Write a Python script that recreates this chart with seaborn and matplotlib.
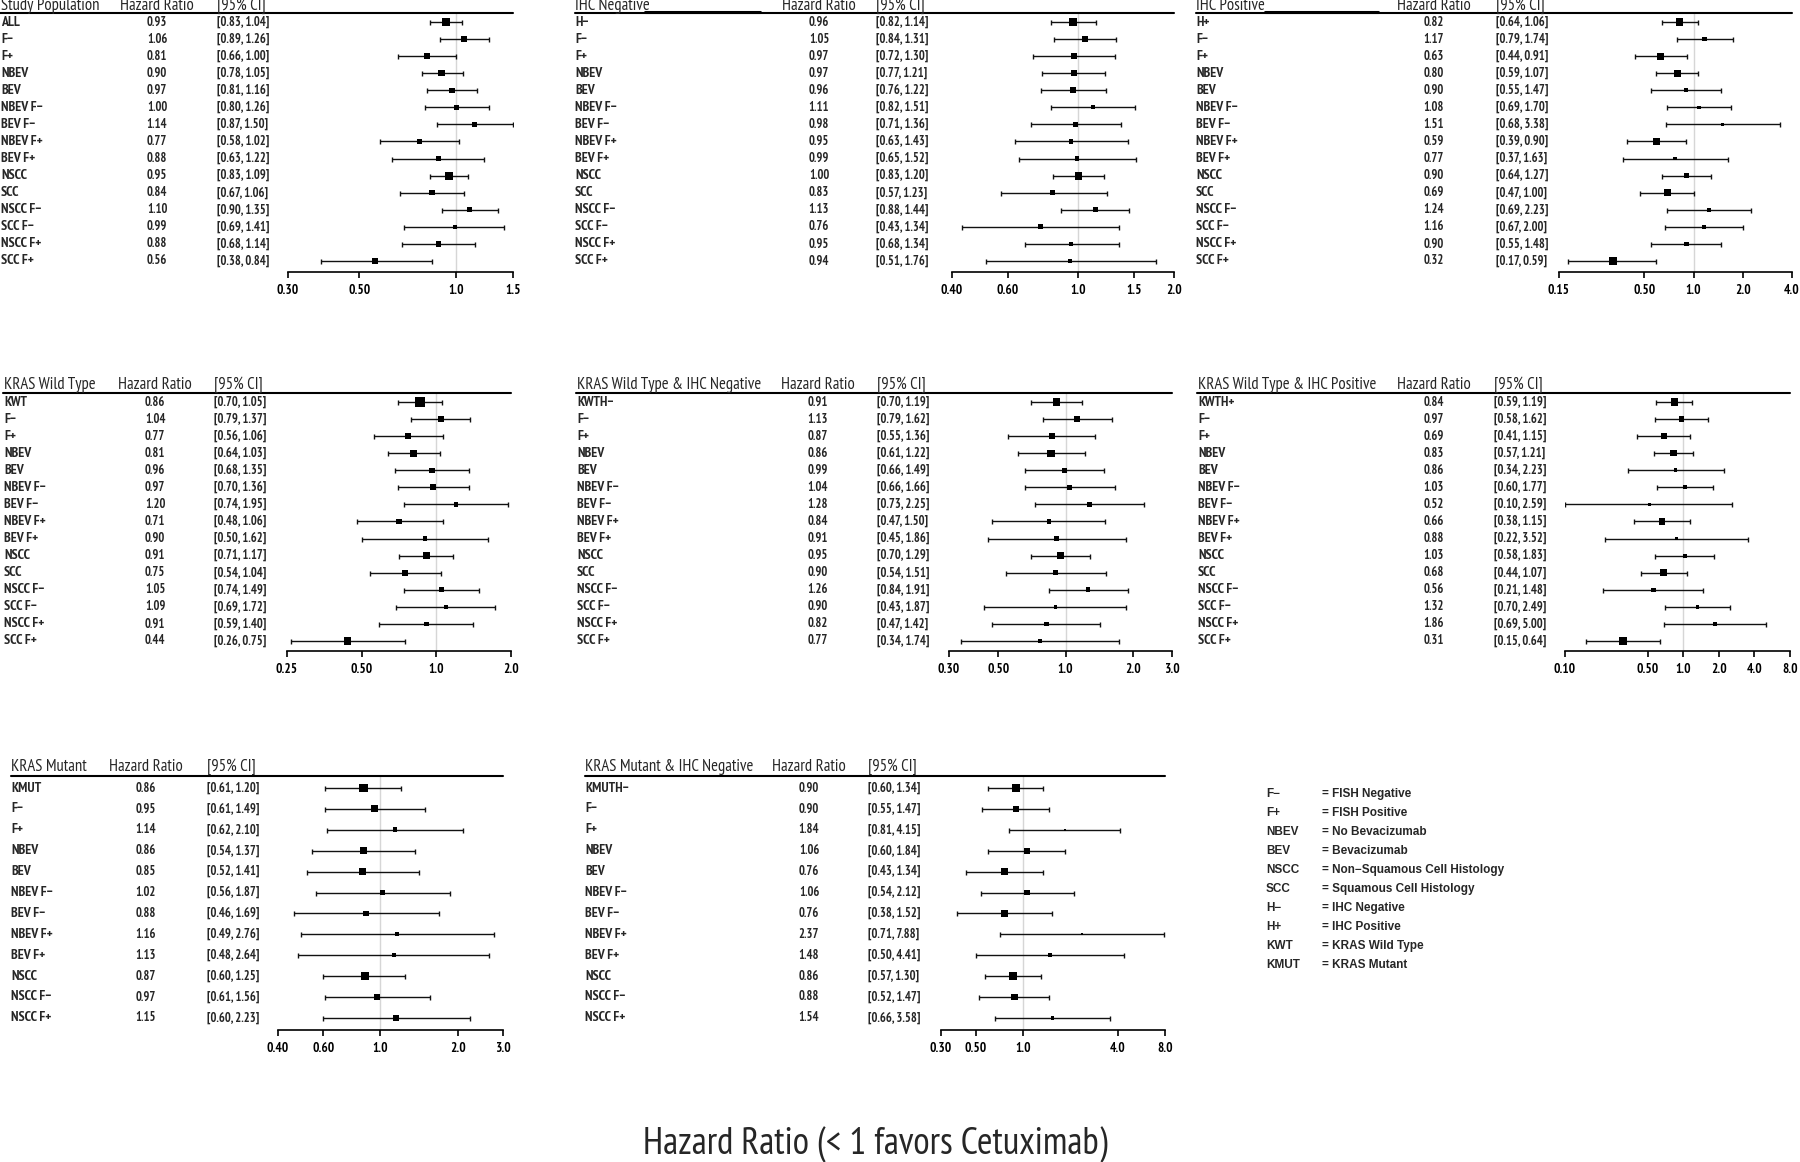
import numpy as np
import matplotlib
matplotlib.use('Agg')
import matplotlib.pyplot as plt
from matplotlib.lines import Line2D
from matplotlib.ticker import NullLocator
import seaborn as sns

sns.set_style('white')
plt.rcParams['font.family'] = ['PT Sans Narrow', 'DejaVu Sans']

W, H = 1800, 1162

base_rows = ['F−', 'F+', 'NBEV', 'BEV', 'NBEV F−', 'BEV F−', 'NBEV F+', 'BEV F+',
             'NSCC', 'SCC', 'NSCC F−', 'SCC F−', 'NSCC F+', 'SCC F+']
mut_rows = ['F−', 'F+', 'NBEV', 'BEV', 'NBEV F−', 'BEV F−', 'NBEV F+', 'BEV F+',
            'NSCC', 'NSCC F−', 'NSCC F+']

# Study Population
sp_labels = ['ALL'] + base_rows
sp_hr = [0.93, 1.06, 0.81, 0.90, 0.97, 1.00, 1.14, 0.77, 0.88, 0.95, 0.84, 1.10, 0.99, 0.88, 0.56]
sp_lo = [0.83, 0.89, 0.66, 0.78, 0.81, 0.80, 0.87, 0.58, 0.63, 0.83, 0.67, 0.90, 0.69, 0.68, 0.38]
sp_hi = [1.04, 1.26, 1.00, 1.05, 1.16, 1.26, 1.50, 1.02, 1.22, 1.09, 1.06, 1.35, 1.41, 1.14, 0.84]
sp_box = [7, 5, 4.5, 5.5, 4.5, 4.5, 4, 4.5, 4.5, 6.5, 4.5, 4, 3.5, 4.5, 5]

# IHC Negative
hn_labels = ['H−'] + base_rows
hn_hr = [0.96, 1.05, 0.97, 0.97, 0.96, 1.11, 0.98, 0.95, 0.99, 1.00, 0.83, 1.13, 0.76, 0.95, 0.94]
hn_lo = [0.82, 0.84, 0.72, 0.77, 0.76, 0.82, 0.71, 0.63, 0.65, 0.83, 0.57, 0.88, 0.43, 0.68, 0.51]
hn_hi = [1.14, 1.31, 1.30, 1.21, 1.22, 1.51, 1.36, 1.43, 1.52, 1.20, 1.23, 1.44, 1.34, 1.34, 1.76]
hn_box = [6.5, 5, 5, 5, 5, 3.5, 4, 3.5, 3.5, 6.5, 4, 4.5, 4, 3.5, 3]

# IHC Positive
hp_labels = ['H+'] + base_rows
hp_hr = [0.82, 1.17, 0.63, 0.80, 0.90, 1.08, 1.51, 0.59, 0.77, 0.90, 0.69, 1.24, 1.16, 0.90, 0.32]
hp_lo = [0.64, 0.79, 0.44, 0.59, 0.55, 0.69, 0.68, 0.39, 0.37, 0.64, 0.47, 0.69, 0.67, 0.55, 0.17]
hp_hi = [1.06, 1.74, 0.91, 1.07, 1.47, 1.70, 3.38, 0.90, 1.63, 1.27, 1.00, 2.23, 2.00, 1.48, 0.59]
hp_box = [6, 4, 6, 6, 3.5, 3, 2.5, 6, 3, 4, 6, 3, 3.5, 4, 7]

# KRAS Wild Type
kw_labels = ['KWT'] + base_rows
kw_hr = [0.86, 1.04, 0.77, 0.81, 0.96, 0.97, 1.20, 0.71, 0.90, 0.91, 0.75, 1.05, 1.09, 0.91, 0.44]
kw_lo = [0.70, 0.79, 0.56, 0.64, 0.68, 0.70, 0.74, 0.48, 0.50, 0.71, 0.54, 0.74, 0.69, 0.59, 0.26]
kw_hi = [1.05, 1.37, 1.06, 1.03, 1.35, 1.36, 1.95, 1.06, 1.62, 1.17, 1.04, 1.49, 1.72, 1.40, 0.75]
kw_box = [8, 5, 5, 6, 4.5, 5, 4, 5, 4, 6, 5, 4.5, 3.5, 4, 6]

# KRAS Wild Type & IHC Negative
kwn_labels = ['KWTH−'] + base_rows
kwn_hr = [0.91, 1.13, 0.87, 0.86, 0.99, 1.04, 1.28, 0.84, 0.91, 0.95, 0.90, 1.26, 0.90, 0.82, 0.77]
kwn_lo = [0.70, 0.79, 0.55, 0.61, 0.66, 0.66, 0.73, 0.47, 0.45, 0.70, 0.54, 0.84, 0.43, 0.47, 0.34]
kwn_hi = [1.19, 1.62, 1.36, 1.22, 1.49, 1.66, 2.25, 1.50, 1.86, 1.29, 1.51, 1.91, 1.87, 1.42, 1.74]
kwn_box = [6.5, 5, 5.5, 6, 4.5, 4.5, 4, 3.5, 3.5, 5.5, 4.5, 4, 3, 4, 3.5]

# KRAS Wild Type & IHC Positive
kwp_labels = ['KWTH+'] + base_rows
kwp_hr = [0.84, 0.97, 0.69, 0.83, 0.86, 1.03, 0.52, 0.66, 0.88, 1.03, 0.68, 0.56, 1.32, 1.86, 0.31]
kwp_lo = [0.59, 0.58, 0.41, 0.57, 0.34, 0.60, 0.10, 0.38, 0.22, 0.58, 0.44, 0.21, 0.70, 0.69, 0.15]
kwp_hi = [1.19, 1.62, 1.15, 1.21, 2.23, 1.77, 2.59, 1.15, 3.52, 1.83, 1.07, 1.48, 2.49, 5.00, 0.64]
kwp_box = [6, 4.5, 5, 5.5, 3, 3.5, 3, 5.5, 2.5, 3.5, 6, 3.5, 3, 3, 7]

# KRAS Mutant
km_labels = ['KMUT'] + mut_rows
km_hr = [0.86, 0.95, 1.14, 0.86, 0.85, 1.02, 0.88, 1.16, 1.13, 0.87, 0.97, 1.15]
km_lo = [0.61, 0.61, 0.62, 0.54, 0.52, 0.56, 0.46, 0.49, 0.48, 0.60, 0.61, 0.60]
km_hi = [1.20, 1.49, 2.10, 1.37, 1.41, 1.87, 1.69, 2.76, 2.64, 1.25, 1.56, 2.23]
km_box = [7, 6, 4, 6, 6, 4.5, 4.5, 3.5, 3.5, 7, 5.5, 5]

# KRAS Mutant & IHC Negative
kmn_labels = ['KMUTH−'] + mut_rows
kmn_hr = [0.90, 0.90, 1.84, 1.06, 0.76, 1.06, 0.76, 2.37, 1.48, 0.86, 0.88, 1.54]
kmn_lo = [0.60, 0.55, 0.81, 0.60, 0.43, 0.54, 0.38, 0.71, 0.50, 0.57, 0.52, 0.66]
kmn_hi = [1.34, 1.47, 4.15, 1.84, 1.34, 2.12, 1.52, 7.88, 4.41, 1.30, 1.47, 3.58]
kmn_box = [6.5, 5.5, 1.5, 5, 6.5, 4.5, 5.5, 1.5, 3, 6.5, 5.5, 3]

legend_codes = ['F−', 'F+', 'NBEV', 'BEV', 'NSCC', 'SCC', 'H−', 'H+', 'KWT', 'KMUT']
legend_text = ['= FISH Negative', '= FISH Positive', '= No Bevacizumab', '= Bevacizumab',
               '= Non−Squamous Cell Histology', '= Squamous Cell Histology',
               '= IHC Negative', '= IHC Positive', '= KRAS Wild Type', '= KRAS Mutant']


def fx(x):
    return x / W


def fy(y):
    return 1 - y / H


fig = plt.figure(figsize=(18, 11.62), dpi=100)

# bands: header y, rule y, first row y, row step, axis y
band_top = (6, 13, 22, 17.07, 272)
band_mid = (385, 393, 402, 17.07, 651)
band_bot = (767, 776, 788, 20.9, 1030)


def forest(title, labels, hr, lo, hi, box, ticks, ticklabels, cols, band, bar=None):
    lx, hx, cx, a0, a1, l0 = cols
    hy, ly, y0, step, ay = band
    hr, lo, hi = np.array(hr), np.array(lo), np.array(hi)
    rows = np.arange(len(hr))

    ax = fig.add_axes([fx(a0), fy(ay), (a1 - a0) / W, (ay - ly) / H])
    ax.axvline(1, color='#d6d6d6', lw=1.0, zorder=0)
    ax.errorbar(hr, rows, xerr=[hr - lo, hi - hr], fmt='none', ecolor='#111111',
                elinewidth=1.0, capsize=1.8, capthick=1.0, zorder=2)
    area = (np.array(box) * 0.86) ** 2
    sns.scatterplot(x=hr, y=rows, size=area, sizes=(0, 100), size_norm=(0, 100),
                    marker='s', color='black', linewidth=0, legend=False, ax=ax, zorder=3)
    ax.set_xscale('log')
    ax.set_xlim(ticks[0], ticks[-1])
    ax.set_ylim((ay - y0) / step, (ly - y0) / step)
    ax.set_xticks(ticks)
    ax.set_xticklabels(ticklabels, fontsize=9.5, fontweight='bold')
    ax.xaxis.set_minor_locator(NullLocator())
    ax.set_yticks([])
    ax.set_xlabel('')
    ax.set_ylabel('')
    for s in ['left', 'top', 'right']:
        ax.spines[s].set_visible(False)
    ax.spines['bottom'].set_linewidth(1.2)
    ax.spines['bottom'].set_color('black')
    ax.tick_params(axis='x', bottom=True, direction='out', length=4.5, width=1.2,
                   pad=4, colors='black')
    ax.patch.set_alpha(0)

    fig.add_artist(Line2D([fx(l0), fx(a1)], [fy(ly), fy(ly)], color='black', lw=1.5))
    if bar is not None:
        # heavy underline stroke that follows the header in the original
        fig.add_artist(Line2D([fx(lx + bar[0]), fx(lx + bar[1])], [fy(ly - 1.2)] * 2,
                              color='black', lw=2.2))
    fig.text(fx(lx), fy(hy), title, ha='left', va='center', fontsize=12)
    fig.text(fx(hx), fy(hy), 'Hazard Ratio', ha='center', va='center', fontsize=12)
    fig.text(fx(cx), fy(hy), '[95% CI]', ha='left', va='center', fontsize=12)
    for i in rows:
        y = fy(y0 + i * step)
        fig.text(fx(lx), y, labels[i], ha='left', va='center', fontsize=10, fontweight='bold')
        fig.text(fx(hx), y, f'{hr[i]:.2f}', ha='center', va='center', fontsize=9, fontweight='bold')
        fig.text(fx(cx), y, f'[{lo[i]:.2f}, {hi[i]:.2f}]', ha='left', va='center',
                 fontsize=9, fontweight='bold')


forest('Study Population', sp_labels, sp_hr, sp_lo, sp_hi, sp_box,
       [0.30, 0.50, 1.0, 1.5], ['0.30', '0.50', '1.0', '1.5'],
       (1, 157, 217, 288, 513, 0), band_top)
forest('IHC Negative', hn_labels, hn_hr, hn_lo, hn_hi, hn_box,
       [0.40, 0.60, 1.0, 1.5, 2.0], ['0.40', '0.60', '1.0', '1.5', '2.0'],
       (575, 819, 876, 952, 1174, 575), band_top, bar=(70, 185))
forest('IHC Positive', hp_labels, hp_hr, hp_lo, hp_hi, hp_box,
       [0.15, 0.50, 1.0, 2.0, 4.0], ['0.15', '0.50', '1.0', '2.0', '4.0'],
       (1196, 1434, 1496, 1559, 1792, 1196), band_top, bar=(69, 182))

forest('KRAS Wild Type', kw_labels, kw_hr, kw_lo, kw_hi, kw_box,
       [0.25, 0.50, 1.0, 2.0], ['0.25', '0.50', '1.0', '2.0'],
       (4, 155, 214, 287, 511, 3), band_mid)
forest('KRAS Wild Type & IHC Negative', kwn_labels, kwn_hr, kwn_lo, kwn_hi, kwn_box,
       [0.30, 0.50, 1.0, 2.0, 3.0], ['0.30', '0.50', '1.0', '2.0', '3.0'],
       (577, 818, 877, 949, 1172, 576), band_mid)
forest('KRAS Wild Type & IHC Positive', kwp_labels, kwp_hr, kwp_lo, kwp_hi, kwp_box,
       [0.10, 0.50, 1.0, 2.0, 4.0, 8.0], ['0.10', '0.50', '1.0', '2.0', '4.0', '8.0'],
       (1198, 1434, 1494, 1565, 1790, 1197), band_mid)

forest('KRAS Mutant', km_labels, km_hr, km_lo, km_hi, km_box,
       [0.40, 0.60, 1.0, 2.0, 3.0], ['0.40', '0.60', '1.0', '2.0', '3.0'],
       (11, 146, 207, 278, 503, 11), band_bot)
forest('KRAS Mutant & IHC Negative', kmn_labels, kmn_hr, kmn_lo, kmn_hi, kmn_box,
       [0.30, 0.50, 1.0, 4.0, 8.0], ['0.30', '0.50', '1.0', '4.0', '8.0'],
       (585, 809, 868, 941, 1165, 585), band_bot)

for i, (code, txt) in enumerate(zip(legend_codes, legend_text)):
    y = fy(794 + i * 19)
    fig.text(fx(1266), y, code, ha='left', va='center', fontsize=8.5, fontweight='bold',
             family=['Liberation Sans', 'DejaVu Sans'])
    fig.text(fx(1322), y, txt, ha='left', va='center', fontsize=8.5, fontweight='bold',
             family=['Liberation Sans', 'DejaVu Sans'])

fig.text(fx(875), fy(1145), 'Hazard Ratio (< 1 favors Cetuximab)', ha='center', va='center',
         fontsize=27)

fig.savefig('out.png', dpi=100, facecolor='white')
